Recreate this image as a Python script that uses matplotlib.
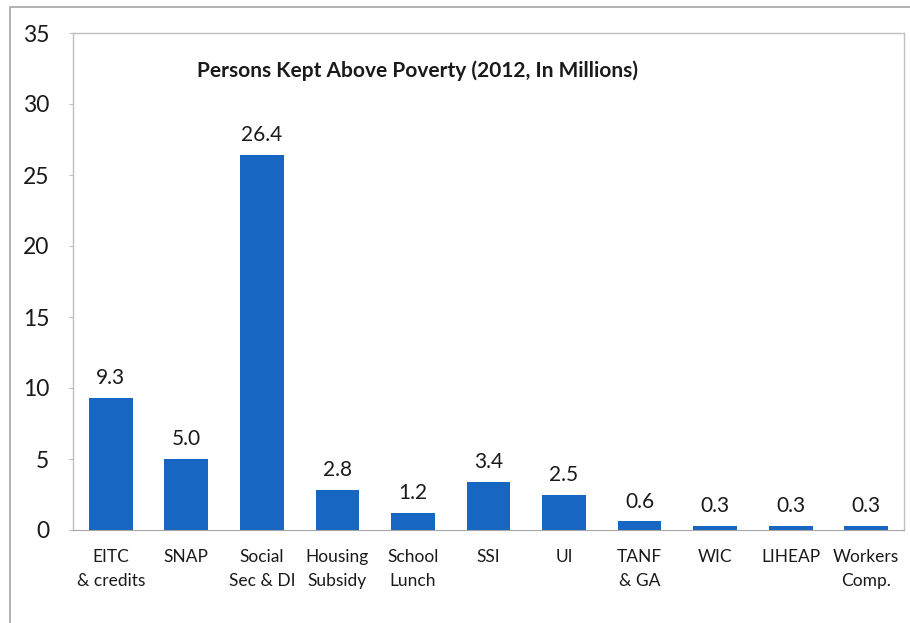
import matplotlib.pyplot as plt
from matplotlib.patches import Rectangle

categories = ["EITC\n& credits", "SNAP", "Social\nSec & DI", "Housing\nSubsidy", "School\nLunch",
              "SSI", "UI", "TANF\n& GA", "WIC", "LIHEAP", "Workers\nComp."]
values = [9.3, 5.0, 26.4, 2.8, 1.2, 3.4, 2.5, 0.6, 0.3, 0.3, 0.3]
y_ticks = [0, 5, 10, 15, 20, 25, 30, 35]

plt.rcParams['font.family'] = ['Lato', 'DejaVu Sans']

fig = plt.figure(figsize=(9.1, 6.23), dpi=100)
W, H = 910, 623

# outer frame of the chart area
fig.add_artist(Rectangle((10 / W, -0.1), 1.2, 1 - 7 / H + 0.1, transform=fig.transFigure,
                         fill=False, edgecolor='#A6A6A6', linewidth=1.2))

ax = fig.add_axes([73 / W, 1 - 530 / H, 831 / W, 497 / H])
x = range(len(categories))
ax.bar(x, values, width=0.58, color='#1766C2', zorder=2)

for xi, v in zip(x, values):
    ax.text(xi, v + 0.7, f"{v:.1f}", ha='center', va='bottom', fontsize=15, color='#1a1a1a')

ax.set_xlim(-0.5, len(categories) - 0.5)
ax.set_ylim(0, 35)
ax.set_yticks(y_ticks)
ax.set_yticklabels([str(t) for t in y_ticks], fontsize=16.5, color='#1a1a1a')
ax.set_xticks(list(x))
ax.set_xticklabels(categories, fontsize=12.5, color='#1a1a1a', linespacing=1.6)
ax.tick_params(axis='x', length=0, pad=14)
ax.tick_params(axis='y', length=3, color='#BFBFBF', pad=14)

for side in ['left', 'top', 'right']:
    ax.spines[side].set_color('#BFBFBF')
    ax.spines[side].set_linewidth(1.0)
ax.spines['bottom'].set_color('#A6A6A6')

ax.text(0.414, 0.925, "Persons Kept Above Poverty (2012, In Millions)", transform=ax.transAxes,
        ha='center', va='center', fontsize=15, fontweight='bold', color='#1a1a1a')

fig.savefig("out.png", dpi=100)
